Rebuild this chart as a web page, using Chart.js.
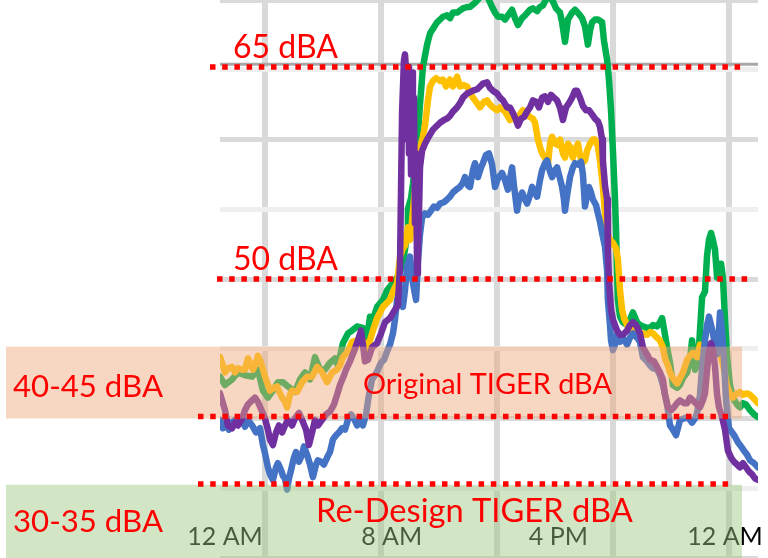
<!DOCTYPE html>
<html><head><meta charset="utf-8">
<script src="https://cdn.jsdelivr.net/npm/chart.js@4"></script>
<style>html,body{margin:0;padding:0;background:#fff;overflow:hidden}#c{display:block}</style>
</head><body>
<canvas id="c" width="768" height="558"></canvas>
<script>
// ---- data (hours since midnight, dBA) ----
const hourTicks = [0, 8, 16, 24];
const hourLabels = ['12 AM', '8 AM', '4 PM', '12 AM'];
const gridHours = [1.92, 7.49, 13.06, 18.62, 24.19];

const green = [[-0.24,43.0],[0,42.4],[0.34,42.8],[0.62,43.3],[0.96,43.1],[1.30,43.0],[1.58,43.5],[1.82,42.0],[2.06,41.5],[2.30,42.0],[2.54,42.6],[2.78,42.6],[3.02,42.3],[3.36,41.9],[3.60,42.8],[3.84,43.3],[4.08,42.8],[4.32,44.4],[4.56,43.5],[4.80,43.5],[5.04,44.0],[5.28,44.3],[5.42,43.8],[5.66,45.4],[5.90,46.1],[6.10,46.3],[6.34,46.6],[6.62,46.5],[6.82,45.8],[6.96,47.3],[7.10,47.1],[7.30,48.0],[7.58,48.5],[7.78,49.2],[8.06,49.7],[8.26,50.1],[8.50,50.9],[8.64,52.1],[8.74,53.3],[8.78,55.0],[8.93,55.8],[9.02,56.8],[9.12,58.2],[9.22,59.6],[9.36,62.5],[9.50,65.2],[9.70,66.8],[9.84,67.6],[10.18,68.4],[10.46,68.8],[10.66,68.9],[10.80,68.7],[10.94,69.1],[11.14,69.1],[11.42,69.4],[11.62,69.5],[11.76,69.5],[12.00,69.8],[12.24,70.2],[12.58,70.3],[12.82,69.5],[12.96,69.1],[13.10,68.8],[13.30,68.8],[13.44,68.6],[13.58,68.9],[13.78,69.3],[13.92,68.7],[14.06,68.2],[14.26,68.7],[14.40,68.9],[14.64,69.3],[14.78,69.4],[14.98,69.2],[15.12,69.5],[15.26,69.6],[15.46,70.2],[15.60,70.2],[15.74,69.9],[15.89,69.4],[16.08,69.1],[16.18,68.4],[16.32,67.0],[16.46,68.6],[16.66,69.1],[16.80,69.3],[16.99,69.0],[17.14,68.7],[17.28,68.1],[17.42,66.8],[17.52,67.8],[17.62,68.4],[17.76,68.6],[17.90,68.6],[18.10,68.4],[18.19,67.1],[18.34,65.7],[18.43,64.3],[18.53,62.1],[18.62,59.2],[18.72,55.7],[18.77,53.5],[18.82,50.4],[18.86,48.5],[18.96,47.3],[19.10,46.9],[19.30,46.7],[19.44,47.1],[19.58,47.6],[19.78,46.9],[19.92,46.7],[20.06,46.6],[20.26,46.5],[20.40,46.5],[20.54,46.7],[20.74,46.6],[20.88,46.9],[20.98,47.2],[21.12,46.0],[21.22,45.1],[21.36,44.0],[21.50,42.4],[21.70,42.2],[21.84,42.4],[21.98,42.9],[22.18,43.3],[22.32,44.2],[22.42,45.6],[22.56,43.5],[22.70,44.0],[22.80,46.3],[22.90,48.7],[23.04,49.1],[23.14,51.7],[23.23,52.8],[23.33,53.3],[23.42,52.8],[23.52,52.1],[23.62,50.1],[23.71,51.1],[23.81,51.1],[23.90,50.1],[24.00,47.1],[24.10,44.4],[24.24,42.4],[24.38,41.5],[24.58,41.0],[24.72,40.8],[24.86,41.1],[25.01,41.0],[25.20,40.6],[25.39,40.3],[25.58,40.1]];

const yellow = [[-0.24,44.4],[-0.10,43.8],[0,43.3],[0.14,43.6],[0.34,43.7],[0.48,43.3],[0.62,43.6],[0.82,43.5],[0.96,43.5],[1.10,44.3],[1.20,44.0],[1.34,43.5],[1.49,44.0],[1.58,44.5],[1.73,44.0],[1.92,43.0],[2.16,42.0],[2.35,42.2],[2.50,42.3],[2.64,41.8],[2.74,41.5],[2.88,41.2],[2.98,40.8],[3.12,41.7],[3.22,42.0],[3.46,41.9],[3.70,42.6],[3.94,43.0],[4.18,43.0],[4.42,43.7],[4.66,43.3],[4.90,42.6],[5.14,43.3],[5.38,43.5],[5.52,43.8],[5.66,44.4],[5.90,44.8],[6.10,45.5],[6.34,45.6],[6.48,45.3],[6.67,45.5],[6.82,44.7],[6.96,45.6],[7.10,46.3],[7.30,47.2],[7.44,47.6],[7.58,48.0],[7.78,48.3],[7.92,48.5],[8.06,49.1],[8.26,49.7],[8.40,51.6],[8.54,52.2],[8.64,52.4],[8.78,53.7],[8.88,52.8],[8.98,54.2],[9.12,56.5],[9.26,58.4],[9.36,59.4],[9.50,60.2],[9.60,61.0],[9.74,62.8],[9.84,63.8],[9.98,64.2],[10.13,64.4],[10.32,64.2],[10.46,64.3],[10.61,63.8],[10.80,64.3],[10.94,63.8],[11.14,64.5],[11.28,63.8],[11.47,63.9],[11.62,63.8],[11.76,63.4],[11.90,63.0],[12.10,62.6],[12.24,62.3],[12.43,62.7],[12.58,62.8],[12.72,62.5],[12.86,62.3],[13.06,62.1],[13.20,62.3],[13.44,62.0],[13.68,61.4],[13.82,61.9],[14.02,61.2],[14.16,61.8],[14.30,62.1],[14.50,61.8],[14.64,61.6],[14.78,61.5],[14.88,61.2],[15.02,60.0],[15.17,59.2],[15.26,58.9],[15.36,58.7],[15.50,58.2],[15.60,59.7],[15.70,60.2],[15.84,59.7],[15.98,59.6],[16.08,60.0],[16.22,59.0],[16.32,58.7],[16.46,59.7],[16.56,59.5],[16.70,58.7],[16.80,59.2],[16.94,59.7],[17.04,58.9],[17.14,58.3],[17.28,58.5],[17.38,59.2],[17.52,59.7],[17.66,60.0],[17.76,60.0],[17.90,59.5],[18.00,58.5],[18.14,56.6],[18.24,54.7],[18.34,53.3],[18.48,52.8],[18.62,52.6],[18.77,52.2],[18.86,51.4],[18.96,49.2],[19.06,47.8],[19.15,47.2],[19.30,46.7],[19.44,46.3],[19.58,46.7],[19.78,46.3],[19.92,46.1],[20.06,46.1],[20.26,46.0],[20.40,46.2],[20.54,46.1],[20.74,45.8],[20.88,45.6],[21.02,45.1],[21.12,44.3],[21.26,43.8],[21.36,43.3],[21.50,42.9],[21.70,42.5],[21.84,42.9],[21.98,43.3],[22.18,44.2],[22.32,44.5],[22.46,44.7],[22.66,44.4],[22.80,45.3],[23.04,44.9],[23.28,44.5],[23.52,44.9],[23.76,44.8],[23.95,43.5],[24.10,42.3],[24.24,41.8],[24.38,41.5],[24.58,41.8],[24.72,41.9],[24.86,41.7],[25.06,41.8],[25.20,41.7],[25.34,41.5],[25.58,41.1]];

const purple = [[-0.24,41.8],[-0.14,41.3],[0,40.6],[0.14,39.5],[0.34,39.3],[0.48,39.7],[0.62,39.5],[0.82,40.0],[0.96,40.6],[1.10,41.0],[1.30,41.3],[1.44,41.5],[1.58,41.2],[1.78,40.5],[1.92,40.0],[2.06,39.2],[2.16,38.5],[2.30,38.1],[2.45,39.0],[2.59,39.5],[2.74,39.0],[2.88,39.5],[3.02,39.9],[3.22,39.5],[3.36,40.0],[3.55,40.4],[3.70,39.9],[3.89,39.2],[4.03,38.1],[4.18,39.0],[4.32,39.9],[4.46,39.5],[4.66,39.9],[4.85,40.3],[5.04,40.5],[5.23,41.0],[5.38,41.7],[5.52,42.4],[5.66,42.9],[5.81,43.5],[6.00,44.1],[6.19,44.8],[6.38,45.6],[6.53,46.3],[6.62,45.3],[6.72,44.1],[6.86,44.2],[7.06,45.1],[7.30,45.4],[7.49,46.1],[7.68,46.9],[7.92,47.2],[8.16,47.8],[8.30,48.1],[8.40,50.9],[8.50,62.0],[8.59,65.7],[8.64,66.1],[8.69,65.0],[8.74,60.0],[8.79,65.2],[8.83,59.0],[8.88,64.5],[8.93,57.5],[8.98,64.8],[9.02,58.5],[9.07,63.0],[9.12,54.0],[9.17,59.0],[9.22,50.4],[9.26,51.4],[9.36,58.0],[9.46,59.2],[9.60,59.7],[9.74,60.1],[9.98,60.7],[10.18,61.0],[10.32,61.2],[10.51,61.4],[10.66,61.5],[10.80,61.7],[10.94,62.0],[11.14,62.3],[11.28,62.6],[11.42,63.0],[11.62,63.3],[11.76,63.4],[11.90,63.5],[12.10,63.6],[12.24,63.8],[12.38,64.0],[12.58,64.1],[12.72,63.7],[12.86,63.5],[13.06,63.3],[13.20,63.0],[13.34,62.8],[13.54,62.3],[13.68,62.3],[13.82,61.9],[13.97,61.4],[14.06,61.0],[14.21,61.5],[14.35,61.6],[14.50,62.0],[14.64,62.3],[14.78,62.8],[14.93,62.7],[15.07,62.3],[15.22,63.0],[15.36,63.1],[15.50,62.7],[15.65,63.2],[15.79,63.0],[15.94,62.8],[16.08,62.3],[16.22,61.4],[16.37,62.3],[16.51,62.6],[16.66,63.0],[16.80,63.5],[16.90,63.5],[17.04,63.0],[17.18,62.4],[17.33,62.1],[17.47,62.1],[17.62,61.8],[17.76,61.5],[17.90,61.3],[18.00,60.9],[18.10,60.0],[18.14,58.5],[18.24,56.7],[18.34,55.7],[18.38,52.1],[18.43,49.9],[18.53,47.8],[18.62,47.1],[18.72,46.7],[18.82,46.3],[18.96,46.0],[19.10,46.0],[19.30,46.3],[19.44,46.7],[19.58,46.9],[19.73,46.7],[19.92,46.1],[20.06,45.1],[20.26,44.6],[20.40,44.2],[20.59,44.1],[20.74,43.7],[20.88,43.3],[21.02,42.8],[21.12,41.7],[21.26,40.8],[21.41,40.6],[21.55,40.8],[21.70,41.1],[21.84,41.3],[22.03,41.1],[22.18,41.1],[22.32,41.5],[22.46,41.3],[22.66,41.0],[22.80,40.8],[22.94,41.3],[23.04,41.8],[23.14,43.5],[23.23,44.8],[23.33,45.4],[23.42,44.9],[23.52,43.7],[23.62,41.7],[23.71,40.8],[23.86,40.1],[24.00,39.2],[24.14,37.7],[24.29,37.2],[24.43,36.9],[24.58,36.7],[24.72,36.5],[24.86,36.8],[25.01,36.5],[25.15,36.2],[25.30,36.0],[25.44,35.7],[25.58,35.6]];

const blue = [[-0.24,39.9],[-0.10,39.3],[0.05,39.6],[0.19,39.2],[0.34,39.7],[0.48,39.9],[0.62,39.6],[0.82,39.9],[0.96,39.4],[1.10,39.9],[1.30,39.5],[1.49,39.0],[1.68,39.3],[1.82,38.1],[1.92,37.5],[2.06,36.5],[2.16,36.0],[2.30,35.6],[2.45,36.5],[2.54,36.8],[2.69,36.3],[2.78,35.9],[2.88,35.7],[2.98,34.9],[3.07,35.7],[3.17,36.3],[3.31,37.2],[3.41,37.6],[3.55,36.9],[3.70,37.4],[3.79,38.0],[3.94,37.4],[4.08,36.7],[4.22,35.8],[4.37,36.7],[4.46,37.0],[4.61,36.9],[4.75,36.7],[4.90,37.2],[5.04,37.6],[5.18,38.5],[5.33,38.8],[5.47,39.0],[5.62,39.3],[5.76,39.2],[5.90,39.9],[6.05,40.3],[6.19,40.0],[6.34,39.5],[6.48,39.9],[6.62,39.5],[6.77,40.3],[6.91,41.7],[7.06,42.8],[7.20,43.1],[7.34,43.5],[7.49,44.0],[7.63,44.2],[7.78,44.8],[7.92,45.3],[8.06,46.1],[8.16,47.1],[8.26,48.5],[8.40,49.2],[8.54,48.0],[8.64,49.2],[8.74,50.9],[8.88,51.6],[9.02,49.7],[9.17,48.5],[9.26,51.2],[9.36,53.2],[9.46,54.4],[9.60,54.7],[9.74,54.6],[9.89,54.9],[10.03,55.2],[10.18,55.1],[10.32,55.4],[10.51,55.5],[10.66,55.7],[10.80,55.9],[10.94,56.2],[11.09,56.4],[11.28,56.6],[11.42,56.9],[11.52,57.3],[11.66,56.7],[11.76,56.6],[11.90,57.8],[12.00,58.3],[12.14,57.3],[12.29,58.0],[12.38,58.3],[12.53,58.9],[12.67,59.0],[12.82,58.2],[12.96,56.6],[13.10,57.2],[13.30,57.6],[13.44,57.1],[13.58,56.4],[13.68,57.2],[13.78,58.0],[13.87,56.7],[14.02,54.9],[14.11,55.7],[14.26,56.2],[14.40,55.7],[14.50,55.4],[14.64,56.0],[14.74,56.6],[14.88,56.2],[14.98,55.9],[15.12,57.1],[15.22,57.8],[15.36,58.3],[15.46,58.5],[15.60,57.7],[15.70,57.3],[15.84,57.8],[15.94,58.0],[16.08,57.2],[16.18,56.6],[16.27,55.7],[16.32,54.9],[16.42,56.0],[16.56,57.3],[16.70,58.0],[16.80,58.3],[16.94,58.2],[17.09,58.4],[17.18,57.5],[17.28,55.2],[17.38,56.0],[17.47,56.6],[17.57,56.2],[17.66,55.7],[17.81,55.3],[17.90,54.7],[18.00,54.1],[18.10,53.3],[18.24,52.3],[18.34,50.6],[18.38,48.5],[18.48,46.7],[18.53,45.6],[18.62,44.9],[18.72,45.3],[18.82,46.0],[18.96,45.5],[19.10,45.8],[19.30,45.3],[19.44,45.8],[19.58,46.1],[19.78,45.8],[19.92,45.5],[20.06,44.4],[20.26,44.1],[20.40,43.8],[20.54,43.6],[20.74,43.5],[20.88,43.1],[21.02,42.4],[21.12,41.7],[21.22,41.0],[21.36,39.5],[21.50,39.2],[21.65,38.8],[21.74,39.3],[21.84,39.9],[22.03,40.0],[22.18,40.1],[22.32,39.9],[22.42,39.7],[22.56,40.0],[22.66,40.4],[22.80,41.7],[22.90,43.7],[23.04,45.6],[23.14,46.7],[23.23,47.3],[23.33,46.7],[23.42,46.1],[23.52,45.3],[23.62,44.6],[23.71,46.3],[23.76,47.6],[23.86,46.3],[23.95,44.2],[24.05,41.3],[24.19,39.3],[24.34,39.0],[24.48,38.7],[24.62,38.3],[24.77,38.0],[24.91,37.7],[25.06,37.4],[25.20,37.0],[25.39,36.8],[25.58,36.5]];

// reference levels (dBA)
const refLevels = [65.2, 50, 40.15, 35.3];
const bandLevels = [[40.0, 45.15], [30.0, 35.25]];
const bandTexts = ['Original TIGER dBA', 'Re-Design TIGER dBA'];
const levelTexts = ['65 dBA', '50 dBA', '40-45 dBA', '30-35 dBA'];
const upperLimit = 65.4;

// ---- overlay styling / layout (not data) ----
const FONT = 'Lato, "Open Sans", sans-serif';
const refLineX = [[210, 745], [217, 750], [198, 732], [198, 732]];
const bandX = [6, 742];
const bandColors = ['rgba(240,168,122,0.46)', 'rgba(158,200,128,0.46)'];
const levelTextPos = [[233, 58, 105], [233, 270, 105], [13, 397, 150], [13, 532, 150]];
const bandTextPos = [[363, 394, 249], [316, 522, 317]];

function fitText(ctx, text, x, y, w, base) {
  ctx.font = base + 'px ' + FONT;
  const m = ctx.measureText(text).width;
  let s = base * w / m;
  s = Math.max(base * 0.8, Math.min(base * 1.2, s));
  ctx.font = s.toFixed(2) + 'px ' + FONT;
  ctx.fillText(text, x, y);
}

const overlay = {
  id: 'overlay',
  beforeDatasetsDraw(chart) {
    const {ctx, scales: {x, y}, chartArea: a} = chart;
    ctx.save();
    const yy = y.getPixelForValue(upperLimit);
    ctx.strokeStyle = '#a8a8a8';
    ctx.lineWidth = 3;
    ctx.beginPath(); ctx.moveTo(a.left, yy); ctx.lineTo(a.right, yy); ctx.stroke();
    ctx.fillStyle = '#000';
    ctx.font = '25px ' + FONT;
    ctx.textAlign = 'center';
    ctx.textBaseline = 'alphabetic';
    hourTicks.forEach((h, i) => ctx.fillText(hourLabels[i], x.getPixelForValue(h), 545));
    ctx.restore();
  },
  afterDatasetsDraw(chart) {
    const {ctx, scales: {y}} = chart;
    ctx.save();
    bandLevels.forEach((b, i) => {
      const y0 = y.getPixelForValue(b[1]);
      const y1 = y.getPixelForValue(b[0]);
      ctx.fillStyle = bandColors[i];
      ctx.fillRect(bandX[0], y0, bandX[1] - bandX[0], y1 - y0);
    });
    ctx.strokeStyle = '#FF0000';
    ctx.lineWidth = 5.5;
    ctx.lineCap = 'butt';
    ctx.setLineDash([5.5, 6.7]);
    refLevels.forEach((v, i) => {
      const yy = y.getPixelForValue(v);
      ctx.beginPath(); ctx.moveTo(refLineX[i][0], yy); ctx.lineTo(refLineX[i][1], yy); ctx.stroke();
    });
    ctx.setLineDash([]);
    ctx.fillStyle = '#FF0000';
    ctx.textAlign = 'left';
    ctx.textBaseline = 'alphabetic';
    levelTexts.forEach((t, i) => fitText(ctx, t, levelTextPos[i][0], levelTextPos[i][1], levelTextPos[i][2], 30));
    bandTexts.forEach((t, i) => fitText(ctx, t, bandTextPos[i][0], bandTextPos[i][1], bandTextPos[i][2], i ? 32 : 29));
    ctx.restore();
  }
};

const toXY = arr => arr.map(([x, y]) => ({x, y}));
const mk = (data, color) => ({
  data: toXY(data), borderColor: color, backgroundColor: color,
  borderWidth: 6.5, pointRadius: 0, tension: 0, fill: false,
  borderJoinStyle: 'round', borderCapStyle: 'round'
});

new Chart(document.getElementById('c'), {
  type: 'line',
  data: {
    datasets: [
      mk(purple, '#7030A0'),
      mk(blue, '#4472C4'),
      mk(yellow, '#FFC000'),
      mk(green, '#00B050')
    ]
  },
  options: {
    responsive: false,
    animation: false,
    devicePixelRatio: 1,
    layout: {padding: {left: 220, right: 10, top: 0, bottom: 0}},
    plugins: {legend: {display: false}, tooltip: {enabled: false}},
    scales: {
      x: {
        type: 'linear', min: -0.24, max: 25.584,
        afterBuildTicks: s => { s.ticks = gridHours.map(v => ({value: v})); },
        ticks: {display: false},
        grid: {color: '#d9d9d9', lineWidth: 6, drawTicks: false},
        border: {display: false}
      },
      y: {
        type: 'linear', min: 30, max: 70,
        ticks: {display: false, stepSize: 5},
        grid: {
          color: c => (c.tick && c.tick.value % 10 === 0) ? '#dadada' : '#efefef',
          lineWidth: 5, drawTicks: false
        },
        border: {display: false}
      }
    }
  },
  plugins: [overlay]
});
</script>
</body></html>
